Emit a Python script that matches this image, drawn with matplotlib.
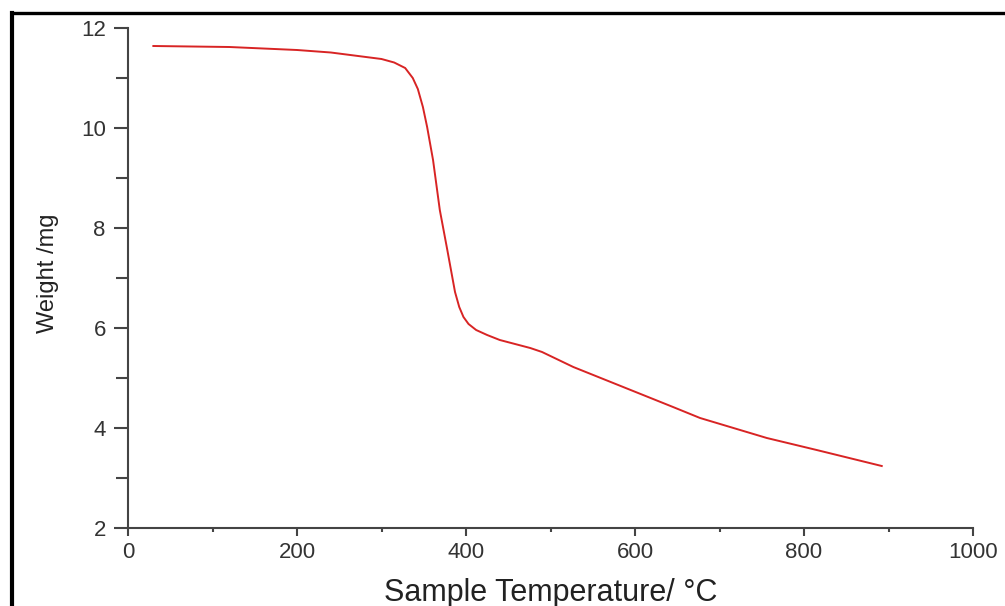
import matplotlib.pyplot as plt
from matplotlib.lines import Line2D
from matplotlib.ticker import MultipleLocator

# TGA curve
temperature = [30, 120, 200, 240, 300, 315, 328, 337, 343, 349, 354, 361, 369,
               378, 387, 392, 397, 403, 412, 425, 440, 476, 490, 527, 586, 645,
               677, 756, 815, 892]
weight = [11.64, 11.62, 11.56, 11.51, 11.38, 11.31, 11.2, 11.0, 10.78, 10.42,
          10.02, 9.36, 8.36, 7.55, 6.72, 6.42, 6.22, 6.08, 5.96, 5.86, 5.76,
          5.6, 5.52, 5.22, 4.82, 4.42, 4.2, 3.8, 3.56, 3.24]

plt.rcParams["font.family"] = ["Liberation Sans", "DejaVu Sans"]

fig = plt.figure(figsize=(10.05, 6.06), dpi=100)
ax = fig.add_axes([128 / 1005, 78 / 606, 845 / 1005, 500 / 606])

ax.plot(temperature, weight, color="#d82424", linewidth=1.4)

ax.set_xlim(0, 1000)
ax.set_ylim(2, 12)
ax.xaxis.set_major_locator(MultipleLocator(200))
ax.xaxis.set_minor_locator(MultipleLocator(100))
ax.yaxis.set_major_locator(MultipleLocator(2))
ax.yaxis.set_minor_locator(MultipleLocator(1))

for side in ("top", "right"):
    ax.spines[side].set_visible(False)
for side in ("left", "bottom"):
    ax.spines[side].set_color("#444444")
    ax.spines[side].set_linewidth(1.5)

ax.tick_params(axis="x", which="major", direction="out", length=6, width=1.5,
               color="#444444", labelsize=16, labelcolor="#333333", pad=4)
ax.tick_params(axis="x", which="minor", direction="out", length=3, width=1.5,
               color="#444444")
ax.tick_params(axis="y", which="major", direction="out", length=10, width=1.5,
               color="#444444", labelsize=16, labelcolor="#333333", pad=6)
ax.tick_params(axis="y", which="minor", direction="out", length=9, width=1.5,
               color="#444444")

ax.set_xlabel("Sample Temperature/ °C", fontsize=22, color="#222222", va="center")
ax.xaxis.set_label_coords(0.5, -0.13)
ax.set_ylabel("Weight /mg", fontsize=17, color="#222222", va="center")
ax.yaxis.set_label_coords(-0.095, 0.51)

# black frame lines along top and left edge of the image
fig.add_artist(Line2D([12 / 1005, 1], [1 - 13 / 606, 1 - 13 / 606],
                      transform=fig.transFigure, color="black", linewidth=2.4))
fig.add_artist(Line2D([12 / 1005, 12 / 1005], [0, 1 - 13 / 606],
                      transform=fig.transFigure, color="black", linewidth=3))

fig.savefig("out.png", dpi=100, facecolor="white")
